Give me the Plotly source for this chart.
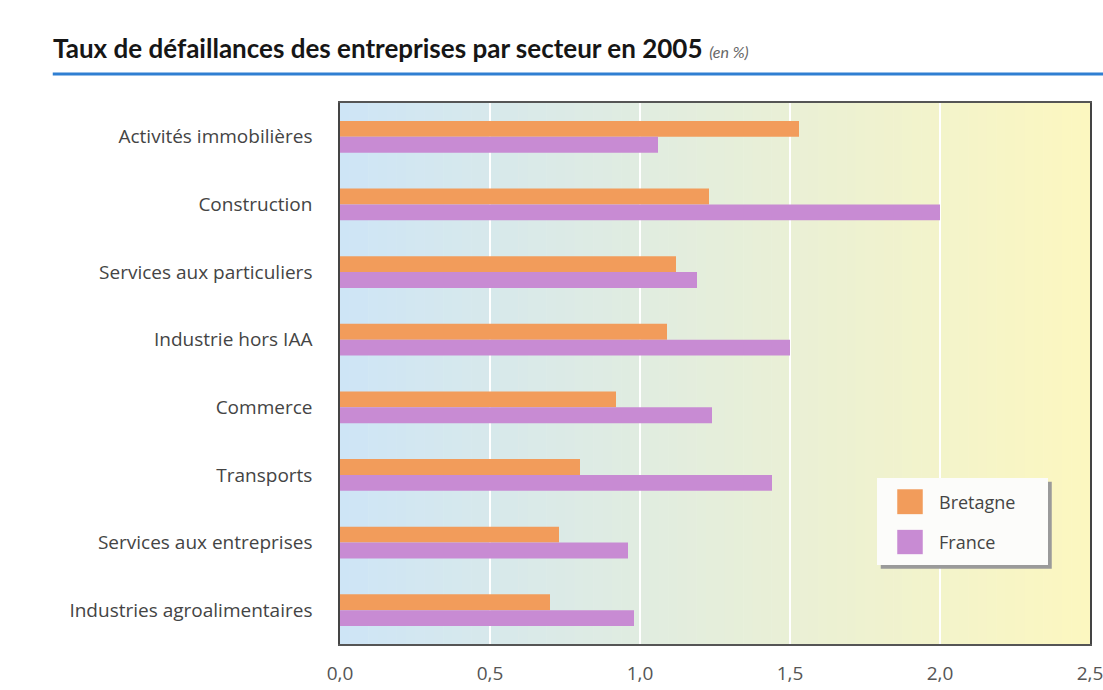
import plotly.graph_objects as go

# Sectors, listed top to bottom
secteurs = [
    "Activités immobilières",
    "Construction",
    "Services aux particuliers",
    "Industrie hors IAA",
    "Commerce",
    "Transports",
    "Services aux entreprises",
    "Industries agroalimentaires",
]
series_noms = ["Bretagne", "France"]
bretagne = [1.53, 1.23, 1.12, 1.09, 0.92, 0.80, 0.73, 0.70]
france = [1.06, 2.00, 1.19, 1.50, 1.24, 1.44, 0.96, 0.98]
x_ticks = [0, 0.5, 1.0, 1.5, 2.0, 2.5]
x_ticklabels = ["0,0", "0,5", "1,0", "1,5", "2,0", "2,5"]

couleurs = ["#f29c5b", "#c88bd3"]
police = "'Open Sans', Lato, sans-serif"
police_titre = "Lato, 'Open Sans', sans-serif"

fig = go.Figure()
for nom, vals, coul in zip(series_noms, [bretagne, france], couleurs):
    fig.add_trace(go.Bar(
        y=secteurs, x=vals, name=nom, orientation="h",
        marker=dict(color=coul, line=dict(width=0)),
        showlegend=False,
    ))

# Background gradient (light blue -> pale yellow), drawn as thin strips
c0 = (206, 229, 246)
c1 = (252, 247, 192)
n = 80
xmax = 2.5
shapes = []
for i in range(n):
    t = i / (n - 1)
    r, g, b = (round(a + (bb - a) * t) for a, bb in zip(c0, c1))
    shapes.append(dict(
        type="rect", xref="x", yref="y domain", layer="below",
        x0=xmax * i / n, x1=xmax * (i + 1) / n + 0.002, y0=0, y1=1,
        fillcolor=f"rgb({r},{g},{b})", line=dict(width=0),
    ))

# Blue rule under the title
shapes.append(dict(type="line", xref="paper", yref="paper",
                   x0=-0.383, x1=1.02, y0=1.0536, y1=1.0536,
                   line=dict(color="#2f7fd2", width=3)))

# Legend box with drop shadow
lx0, lx1 = 0.716, 0.944
ly0, ly1 = 0.146, 0.307
shapes.append(dict(type="rect", xref="paper", yref="paper",
                   x0=lx0 + 0.005, x1=lx1 + 0.005, y0=ly0 - 0.007, y1=ly1 - 0.007,
                   fillcolor="#9a9a9a", line=dict(width=0)))
shapes.append(dict(type="rect", xref="paper", yref="paper",
                   x0=lx0, x1=lx1, y0=ly0, y1=ly1,
                   fillcolor="#fcfcfa", line=dict(width=0)))
annotations = []
sw_y = [(0.240, 0.286), (0.166, 0.211)]
for nom, coul, (y0, y1) in zip(series_noms, couleurs, sw_y):
    shapes.append(dict(type="rect", xref="paper", yref="paper",
                       x0=0.743, x1=0.777, y0=y0, y1=y1,
                       fillcolor=coul, line=dict(width=0)))
    annotations.append(dict(xref="paper", yref="paper", x=0.796, y=(y0 + y1) / 2,
                            text=nom, showarrow=False, xanchor="left", yanchor="middle",
                            font=dict(family=police, size=18, color="#444444")))

# Title
annotations.append(dict(
    xref="paper", yref="paper", x=-0.385, y=1.068, xanchor="left", yanchor="bottom",
    showarrow=False,
    text="<b>Taux de défaillances des entreprises par secteur en 2005</b> "
         "<span style='font-size:16px;color:#666666'><i>(en %)</i></span>",
    font=dict(family=police_titre, size=26, color="#161616"),
))

fig.update_layout(
    width=1103, height=690,
    margin=dict(l=340, r=13, t=103, b=46),
    paper_bgcolor="white",
    plot_bgcolor="white",
    barmode="group",
    bargap=0.53,
    bargroupgap=0,
    shapes=shapes,
    annotations=annotations,
    font=dict(family=police, color="#444444"),
)
fig.update_xaxes(
    range=[0, 2.5], tickvals=x_ticks, ticktext=x_ticklabels,
    automargin=False, ticklabeloverflow="allow",
    showgrid=True, gridcolor="white", gridwidth=2,
    zeroline=False,
    showline=True, mirror=True, linecolor="#555555", linewidth=1.5,
    ticks="outside", ticklen=11, tickcolor="rgba(0,0,0,0)",
    tickfont=dict(family=police, size=19, color="#555555"),
)
fig.update_yaxes(
    autorange="reversed",
    automargin=False,
    showgrid=False,
    showline=True, mirror=True, linecolor="#444444", linewidth=1.5,
    ticks="outside", ticklen=22, tickcolor="rgba(0,0,0,0)",
    tickfont=dict(family=police, size=19, color="#444444"),
)

fig.write_html("out.html")
